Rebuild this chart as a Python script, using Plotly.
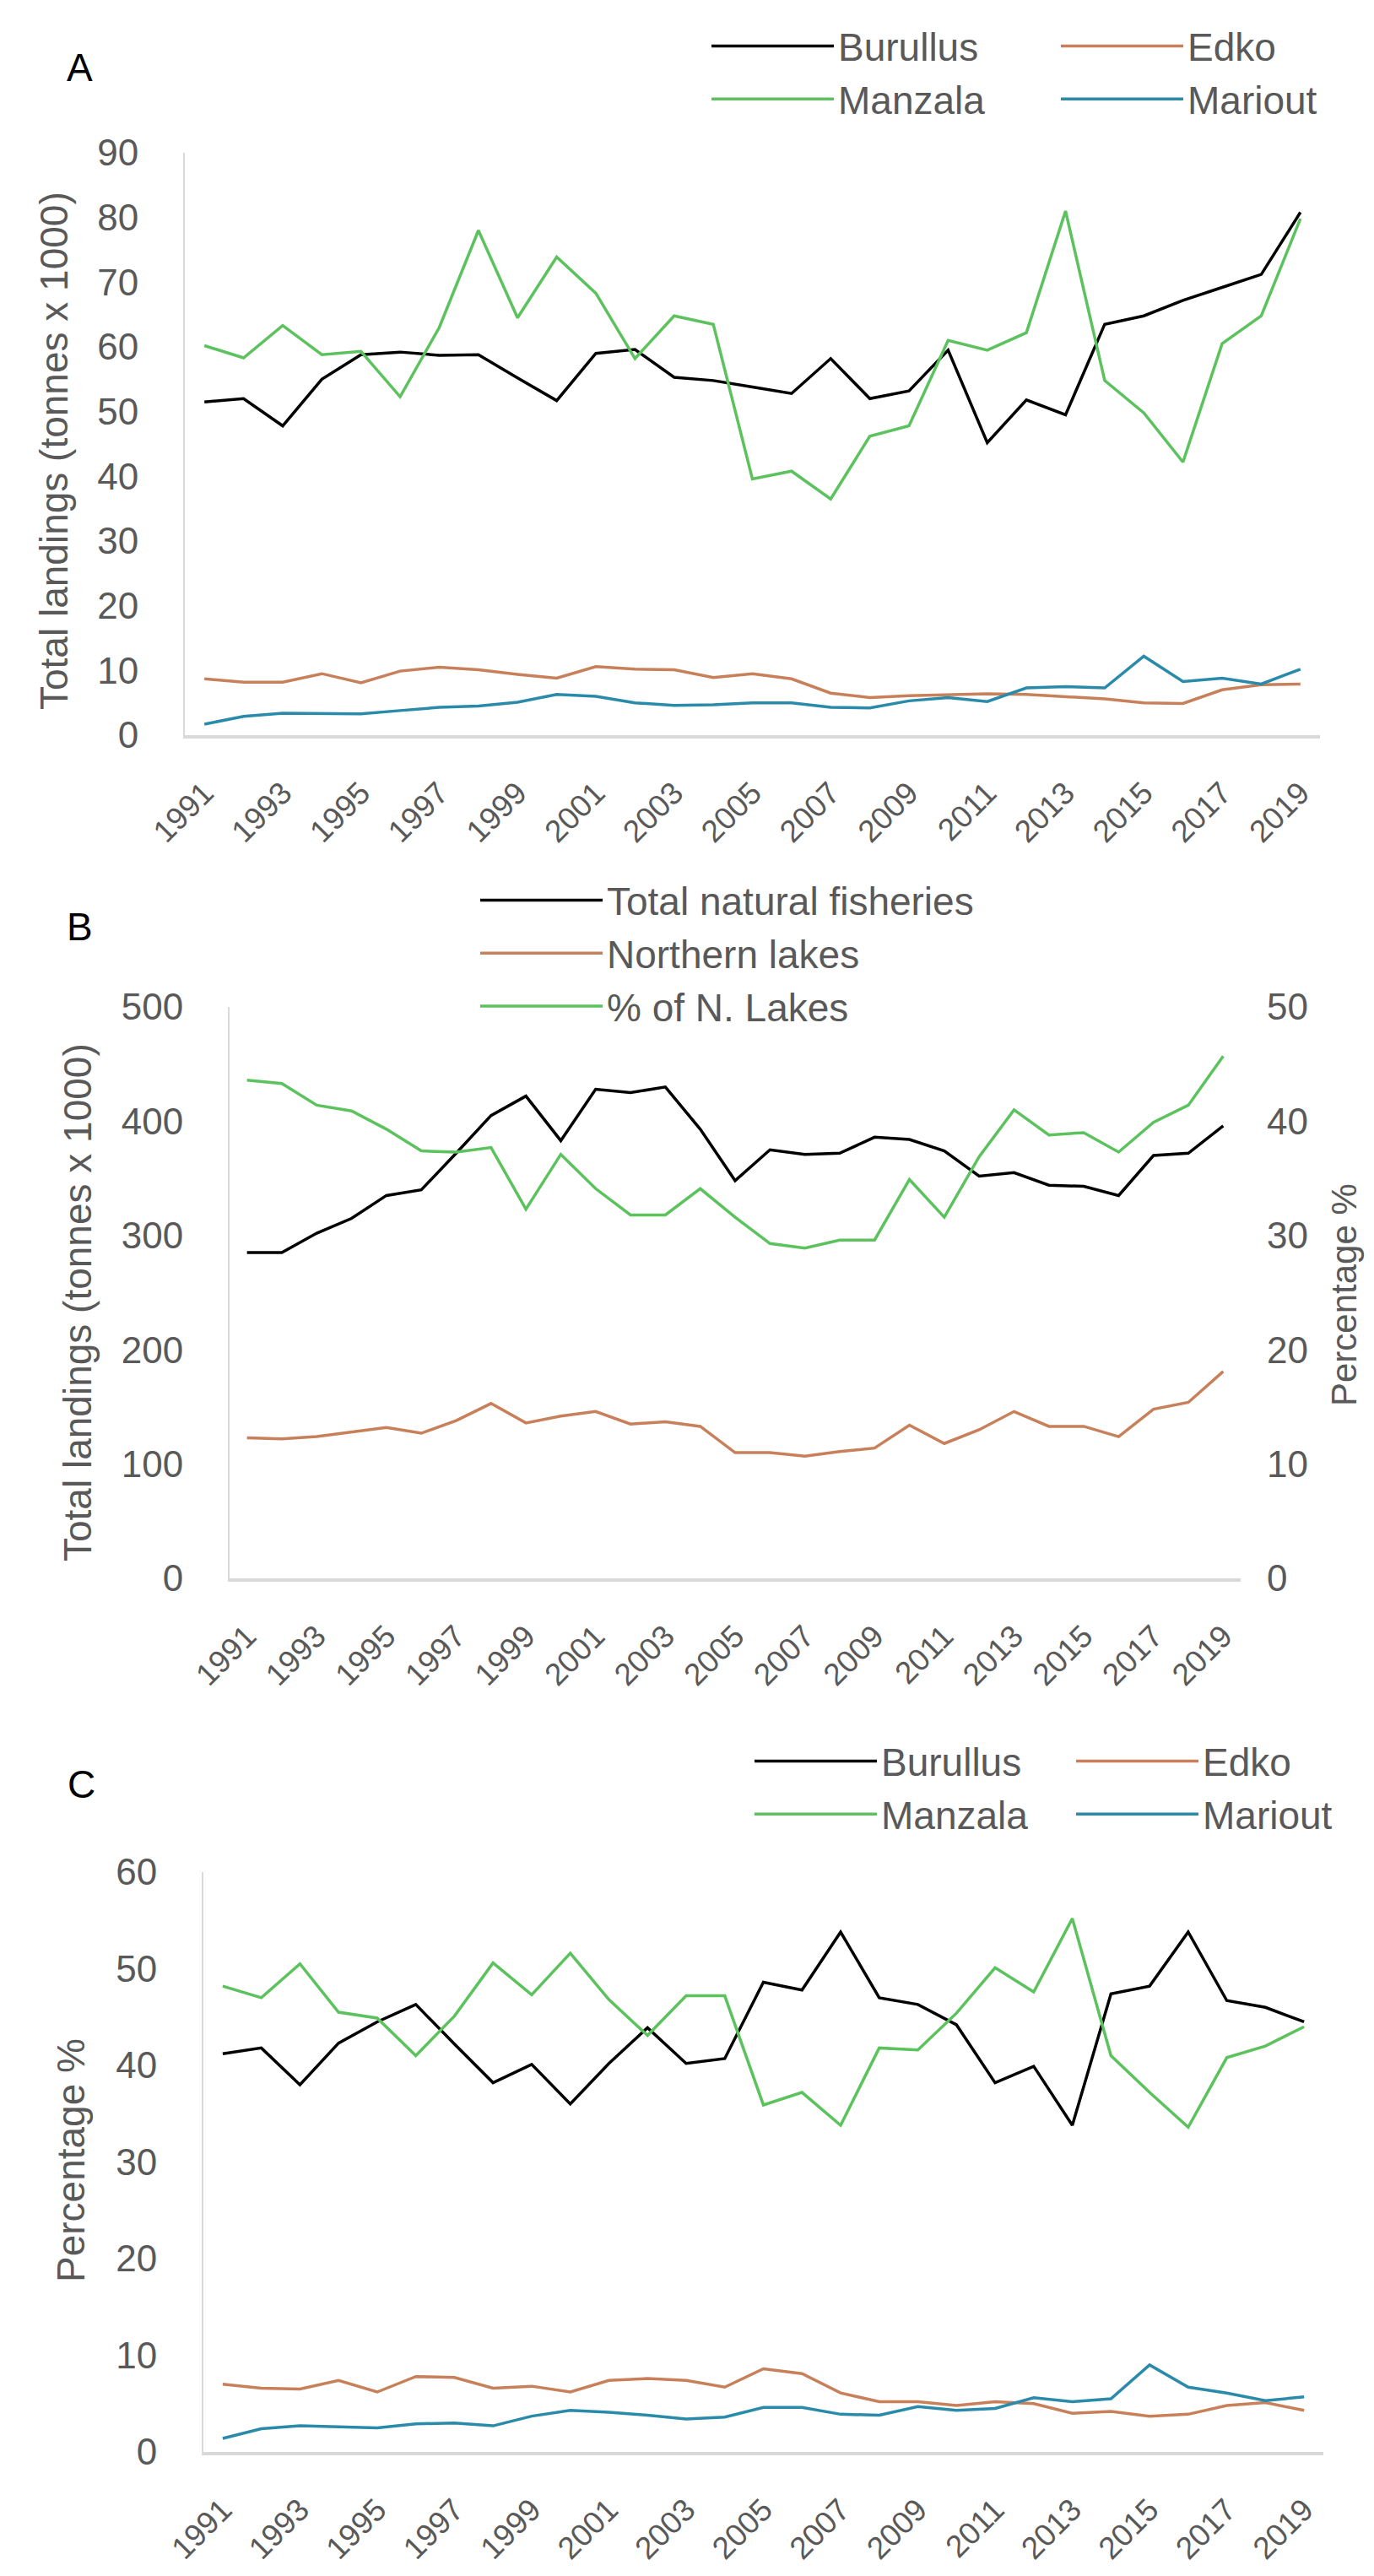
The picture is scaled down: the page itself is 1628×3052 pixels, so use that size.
import plotly.graph_objects as go

W, H = 1628, 3052

years = list(range(1991, 2020))
year_ticks = [1991, 1993, 1995, 1997, 1999, 2001, 2003, 2005, 2007, 2009,
              2011, 2013, 2015, 2017, 2019]

# panel A - landings per lake (tonnes x 1000)
burullus = [51.5, 52.0, 47.8, 55.0, 58.8, 59.2, 58.7, 58.8, 55.2, 51.7,
            59.0, 59.6, 55.3, 54.8, 53.8, 52.8, 58.2, 52.0, 53.2, 59.5,
            45.2, 51.8, 49.5, 63.5, 64.8, 67.2, 69.2, 71.2, 80.8]
edko = [8.7, 8.2, 8.2, 9.5, 8.1, 9.9, 10.5, 10.1, 9.4, 8.8,
        10.6, 10.2, 10.1, 8.9, 9.5, 8.7, 6.5, 5.8, 6.1, 6.3,
        6.4, 6.3, 6.0, 5.6, 5.0, 4.9, 7.0, 7.8, 7.9]
manzala = [60.2, 58.3, 63.3, 58.8, 59.3, 52.3, 63.0, 78.0, 64.5, 73.9,
           68.3, 58.2, 64.8, 63.5, 39.6, 40.8, 36.5, 46.2, 47.8, 61.0,
           59.5, 62.2, 81.0, 54.8, 49.8, 42.2, 60.5, 64.8, 79.8]
mariout = [1.7, 2.9, 3.4, 3.3, 3.3, 3.8, 4.3, 4.5, 5.1, 6.3,
           6.0, 5.0, 4.6, 4.7, 5.0, 5.0, 4.3, 4.2, 5.3, 5.8,
           5.2, 7.3, 7.5, 7.3, 12.2, 8.3, 8.8, 7.9, 10.2]

# panel B - totals and share of northern lakes
total_natural = [285, 285, 302, 315, 335, 340, 372, 405, 422, 383,
                 428, 425, 430, 393, 348, 375, 371, 372, 386, 384,
                 374, 352, 355, 344, 343, 335, 370, 372, 396]
northern_lakes = [123, 122, 124, 128, 132, 127, 138, 153, 136, 142,
                  146, 135, 137, 133, 110, 110, 107, 111, 114, 134,
                  118, 130, 146, 133, 133, 124, 148, 154, 181]
pct_n_lakes = [43.6, 43.3, 41.4, 40.9, 39.3, 37.4, 37.3, 37.7, 32.3, 37.1,
               34.1, 31.8, 31.8, 34.1, 31.6, 29.3, 28.9, 29.6, 29.6, 34.9,
               31.6, 36.9, 41.0, 38.8, 39.0, 37.3, 39.9, 41.4, 45.7]

# panel C - share of each lake (%)
burullus_pct = [41.2, 41.8, 38.0, 42.3, 44.5, 46.3, 42.2, 38.2, 40.1, 36.0,
                40.2, 43.9, 40.2, 40.7, 48.6, 47.8, 53.8, 47.0, 46.3, 44.2,
                38.2, 39.9, 33.8, 47.4, 48.2, 53.8, 46.7, 46.0, 44.5]
edko_pct = [7.0, 6.6, 6.5, 7.4, 6.2, 7.8, 7.7, 6.6, 6.8, 6.2,
            7.4, 7.6, 7.4, 6.7, 8.6, 8.1, 6.1, 5.2, 5.2, 4.8,
            5.2, 5.0, 4.0, 4.2, 3.7, 3.9, 4.8, 5.1, 4.3]
manzala_pct = [48.2, 47.0, 50.5, 45.5, 44.9, 41.0, 45.1, 50.6, 47.3, 51.6,
               46.8, 43.1, 47.2, 47.2, 35.9, 37.2, 33.8, 41.8, 41.6, 45.4,
               50.1, 47.6, 55.2, 41.0, 37.2, 33.6, 40.8, 42.0, 44.0]
mariout_pct = [1.4, 2.4, 2.7, 2.6, 2.5, 2.9, 3.0, 2.7, 3.7, 4.3,
               4.1, 3.8, 3.4, 3.6, 4.6, 4.6, 3.9, 3.8, 4.7, 4.3,
               4.5, 5.6, 5.2, 5.5, 9.0, 6.7, 6.1, 5.3, 5.7]

BLACK = "#000000"
ORANGE = "#c8805a"
GREEN = "#5cc25e"
BLUE = "#2a8aaa"
GREY = "#595959"
AXIS = "#d9d9d9"
FONT = "Liberation Sans, Arial, sans-serif"


def px_x(p):
    return p / W


def px_y(p):
    return 1 - p / H


fig = go.Figure()


def add_line(x, y, name, color, xa, ya, legend, group):
    fig.add_trace(go.Scatter(
        x=x, y=y, name=name, mode="lines",
        line=dict(color=color, width=3.5),
        xaxis=xa, yaxis=ya, legend=legend, legendgroup=group,
    ))


# panel A
add_line(years, burullus, "Burullus", BLACK, "x", "y", "legend", "a1")
add_line(years, manzala, "Manzala", GREEN, "x", "y", "legend", "a2")
add_line(years, edko, "Edko", ORANGE, "x", "y", "legend2", "a3")
add_line(years, mariout, "Mariout", BLUE, "x", "y", "legend2", "a4")

# panel B
add_line(years, total_natural, "Total natural fisheries", BLACK, "x2", "y2", "legend3", "b1")
add_line(years, northern_lakes, "Northern lakes", ORANGE, "x2", "y2", "legend3", "b2")
add_line(years, pct_n_lakes, "% of N. Lakes", GREEN, "x2", "y3", "legend3", "b3")

# panel C
add_line(years, burullus_pct, "Burullus", BLACK, "x3", "y4", "legend4", "c1")
add_line(years, manzala_pct, "Manzala", GREEN, "x3", "y4", "legend4", "c2")
add_line(years, edko_pct, "Edko", ORANGE, "x3", "y4", "legend5", "c3")
add_line(years, mariout_pct, "Mariout", BLUE, "x3", "y4", "legend5", "c4")

xcommon = dict(
    range=[1990.5, 2019.5], tickmode="array", tickvals=year_ticks,
    ticktext=[str(t) for t in year_ticks], tickangle=-45,
    tickfont=dict(size=37, color=GREY, family=FONT),
    showline=True, linecolor=AXIS, linewidth=4, showgrid=False,
    zeroline=False, ticks="", ticklabelstandoff=28, fixedrange=True,
)
ycommon = dict(
    tickfont=dict(size=44, color=GREY, family=FONT),
    showgrid=False, zeroline=False, ticks="", fixedrange=True,
)

fig.update_layout(
    xaxis=dict(domain=[px_x(211), px_x(1556)], anchor="y", **xcommon),
    yaxis=dict(domain=[px_y(863), px_y(173)], anchor="x", range=[0, 90], dtick=10,
               showline=True, linecolor=AXIS, linewidth=2, ticklabelstandoff=44, **ycommon),
    xaxis2=dict(domain=[px_x(264), px_x(1462)], anchor="y2", **xcommon),
    yaxis2=dict(domain=[px_y(1862), px_y(1185)], anchor="x2", range=[0, 500], dtick=100,
                showline=True, linecolor=AXIS, linewidth=2, ticklabelstandoff=44, **ycommon),
    yaxis3=dict(overlaying="y2", anchor="x2", side="right", range=[0, 50], dtick=10,
                showline=False, ticklabelstandoff=30, **ycommon),
    xaxis3=dict(domain=[px_x(233), px_x(1560)], anchor="y4", **xcommon),
    yaxis4=dict(domain=[px_y(2897), px_y(2210)], anchor="x3", range=[0, 60], dtick=10,
                showline=True, linecolor=AXIS, linewidth=2, ticklabelstandoff=44, **ycommon),
)

legend_base = dict(
    orientation="v", xanchor="left", yanchor="top", bgcolor="rgba(0,0,0,0)",
    font=dict(size=46, color=GREY, family=FONT), itemwidth=145,
    traceorder="normal", itemclick=False, itemdoubleclick=False,
)
fig.update_layout(
    legend=dict(x=px_x(830), y=px_y(10), tracegroupgap=0, **legend_base),
    legend2=dict(x=px_x(1244), y=px_y(10), tracegroupgap=0, **legend_base),
    legend3=dict(x=px_x(556), y=px_y(1022), tracegroupgap=22, **legend_base),
    legend4=dict(x=px_x(881), y=px_y(2042), tracegroupgap=6, **legend_base),
    legend5=dict(x=px_x(1262), y=px_y(2042), tracegroupgap=6, **legend_base),
)

title_font = dict(size=46, color=GREY, family=FONT)
letter_font = dict(size=46, color="#000000", family=FONT)
annotations = [
    dict(text="A", x=px_x(86), y=px_y(72), font=letter_font),
    dict(text="B", x=px_x(86), y=px_y(1090), font=letter_font),
    dict(text="C", x=px_x(88), y=px_y(2106), font=letter_font),
    dict(text="Total landings (tonnes x 1000)", x=px_x(56), y=px_y(526),
         textangle=-90, font=title_font),
    dict(text="Total landings (tonnes x 1000)", x=px_x(84), y=px_y(1535),
         textangle=-90, font=title_font),
    dict(text="Percentage %", x=px_x(1584), y=px_y(1526),
         textangle=-90, font=dict(size=42, color=GREY, family=FONT)),
    dict(text="Percentage %", x=px_x(76), y=px_y(2552),
         textangle=-90, font=title_font),
]
for a in annotations:
    a.update(xref="paper", yref="paper", showarrow=False,
             xanchor="center", yanchor="middle")

fig.update_layout(
    width=W, height=H,
    margin=dict(l=0, r=0, t=0, b=0, autoexpand=False),
    paper_bgcolor="white", plot_bgcolor="white",
    annotations=annotations,
    showlegend=True,
)

fig.write_html("out.html")
